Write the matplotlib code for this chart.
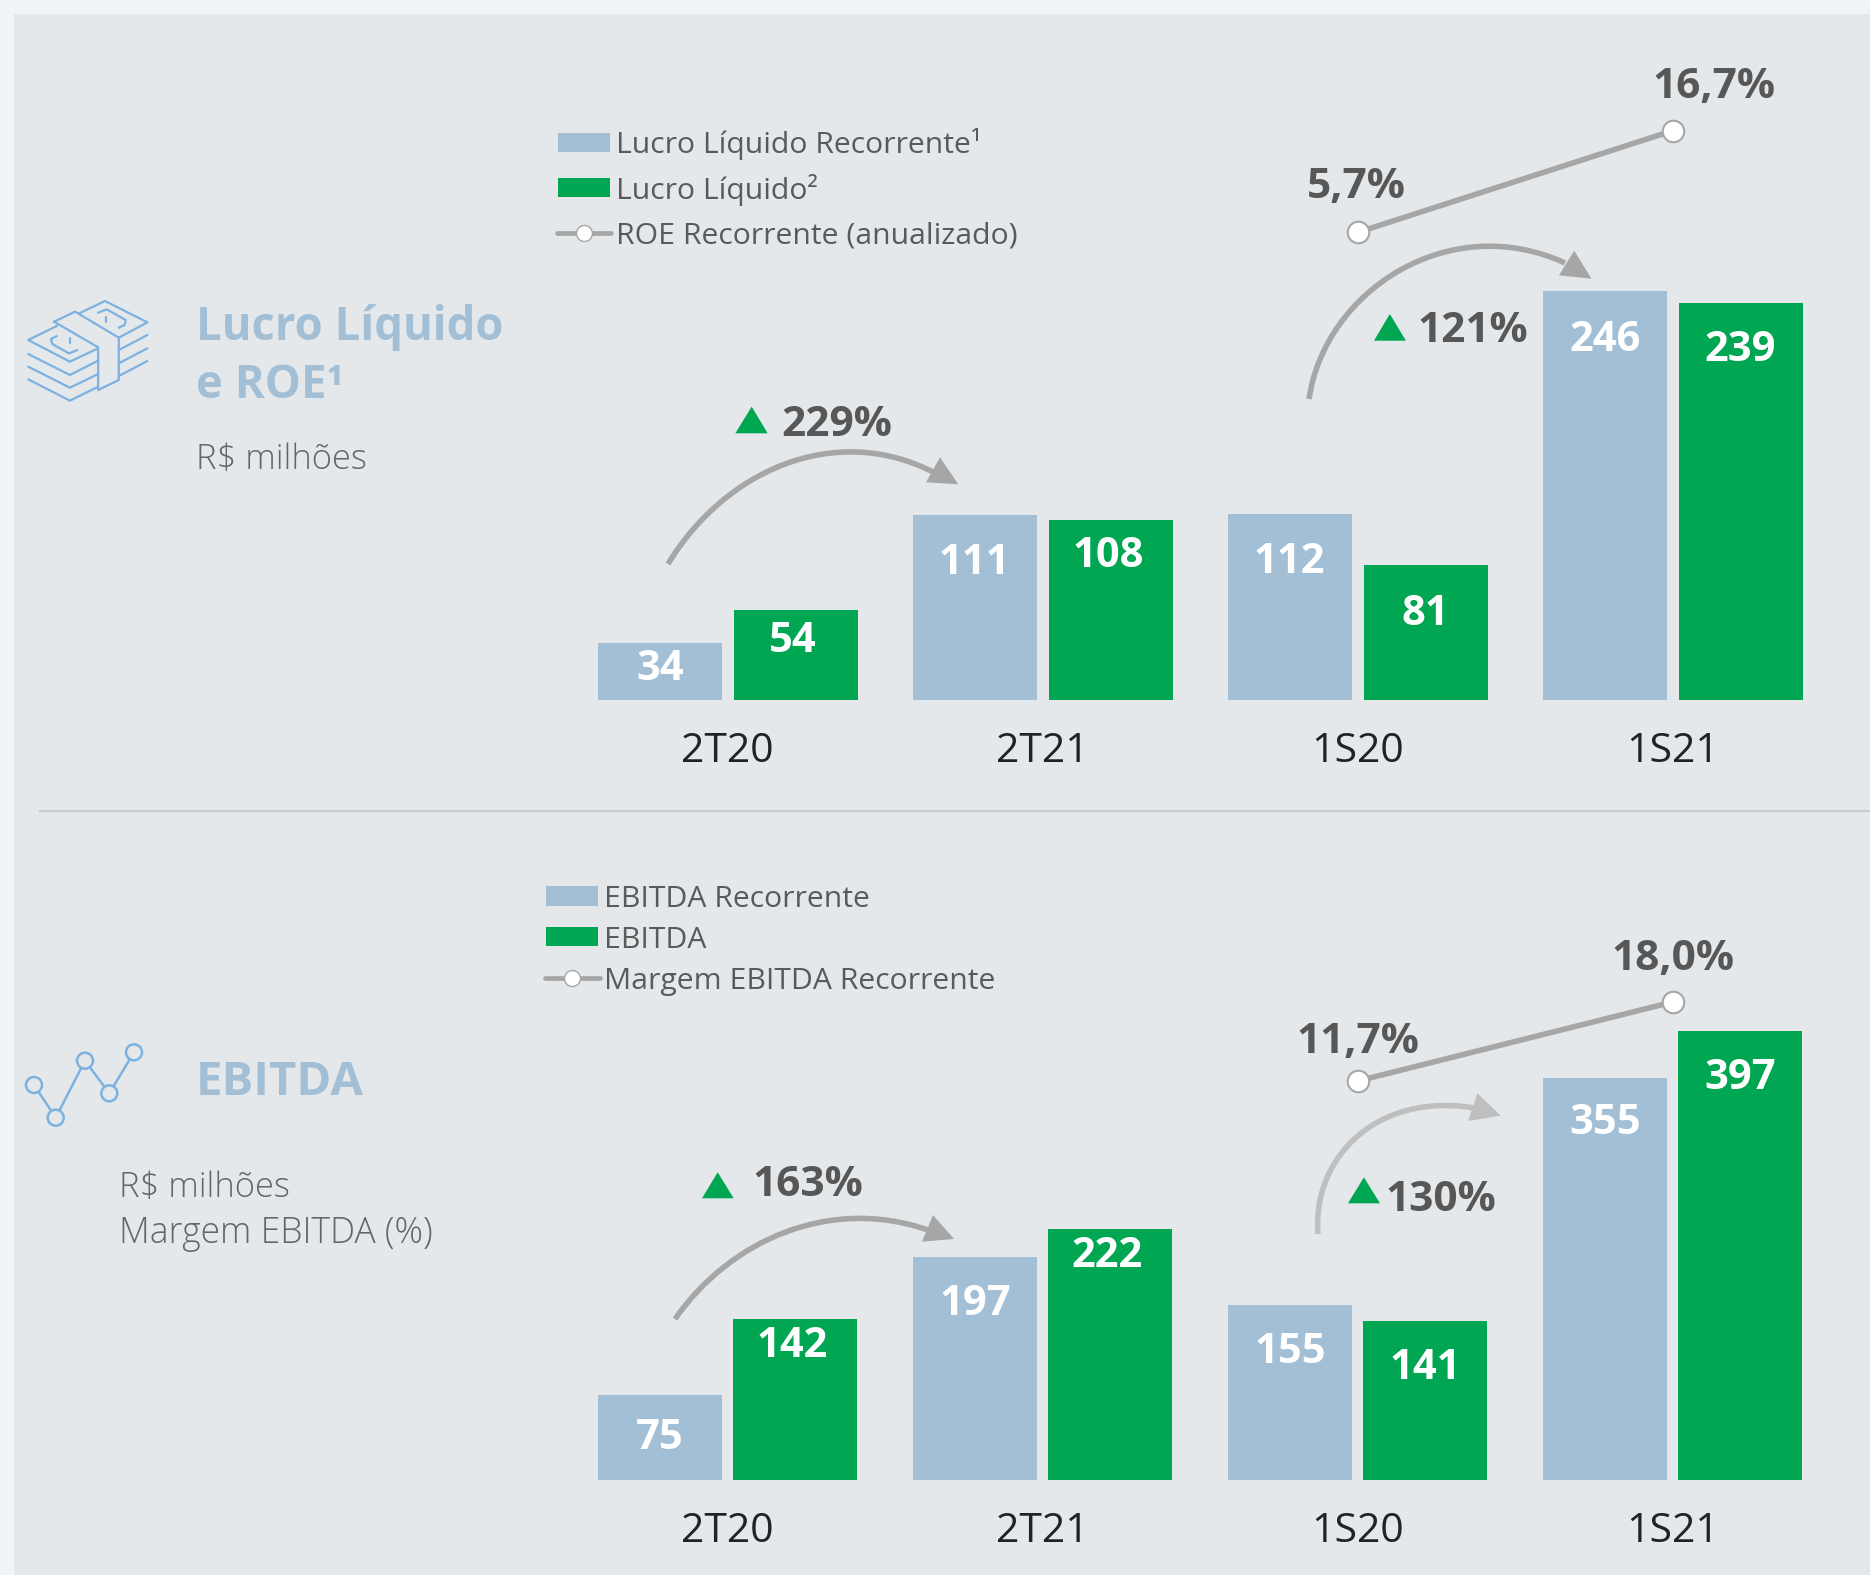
import matplotlib
matplotlib.use("Agg")
import matplotlib.pyplot as plt
from matplotlib.path import Path
from matplotlib.patches import PathPatch, Polygon, Rectangle, Circle

plt.rcParams['font.family'] = ['Open Sans', 'DejaVu Sans']

# ---- data ----
categories = ['2T20', '2T21', '1S20', '1S21']
lucro_recorrente = [34, 111, 112, 246]
lucro_liquido = [54, 108, 81, 239]
roe_values = [5.7, 16.7]
roe_labels = ['5,7%', '16,7%']
ebitda_recorrente = [75, 197, 155, 355]
ebitda = [142, 222, 141, 397]
margem_values = [11.7, 18.0]
margem_labels = ['11,7%', '18,0%']
line_categories = [2, 3]

BLUE = '#A3BFD6'; GREEN = '#00A651'; GREY = '#A6A6A6'; DARK = '#575757'
TEXT = '#5A5A5A'; ICON = '#7DB2E0'; PANEL = '#E4E8EB'; OUTER = '#EFF4F8'

W, H = 1870, 1575
fig = plt.figure(figsize=(W / 100, H / 100), dpi=100, facecolor=OUTER)

# pixel overlay for furniture
ov = fig.add_axes([0, 0, 1, 1], zorder=5)
ov.set_xlim(0, W); ov.set_ylim(H, 0); ov.axis('off'); ov.patch.set_alpha(0)
bg = fig.add_axes([0, 0, 1, 1], zorder=0)
bg.set_xlim(0, W); bg.set_ylim(H, 0); bg.axis('off')
bg.add_patch(Rectangle((14, 14), W, H, fc=PANEL, ec='none'))
bg.plot([40, W], [811, 811], color='#C6CCD0', lw=1.5)

PITCH = 315.0
X0 = 727.7


def panel(top_px, base_px, px_per_unit, v1, v2, offset, pts, line_vals, line_px):
    ax = fig.add_axes([0, 1 - base_px / H, 1, (base_px - top_px) / H], zorder=2)
    ax.patch.set_alpha(0)
    ax.set_xlim(-X0 / PITCH, (W - X0) / PITCH)
    ax.set_ylim(0, (base_px - top_px) / px_per_unit)
    w = 124 / PITCH
    off = offset / PITCH
    xs = list(range(len(categories)))
    ax.bar([x - off for x in xs], v1, w, color=BLUE)
    ax.bar([x + off for x in xs], v2, w, color=GREEN)
    for s in ax.spines.values():
        s.set_visible(False)
    ax.set_yticks([])
    ax.set_xticks(xs)
    ax.set_xticklabels(categories, fontsize=29.5, color='#222222')
    ax.tick_params(axis='x', length=0, pad=pts)
    # recurring-rate line on its own scale
    tw = ax.twinx()
    tw.patch.set_alpha(0)
    per = (line_px[0] - line_px[1]) / (line_vals[1] - line_vals[0])
    lo = line_vals[0] - (base_px - line_px[0]) / per
    tw.set_ylim(lo, lo + (base_px - top_px) / per)
    tw.set_yticks([])
    for s in tw.spines.values():
        s.set_visible(False)
    tw.plot(line_categories, line_vals, color=GREY, lw=4, marker='o', ms=15.5,
            mfc='white', mec=GREY, mew=1.5, solid_capstyle='butt')


panel(14, 700, 1.663, lucro_recorrente, lucro_liquido, 68, 23,
      roe_values, (232.4, 130.7))
panel(815, 1480, 1.131, ebitda_recorrente, ebitda, 67.5, 23,
      margem_values, (1081, 1002))


def vlabels(values_pairs, baselines, offset, shifts):
    i = 0
    for g, (a, b) in enumerate(values_pairs):
        cx = X0 + g * PITCH
        ov.text(cx - offset, baselines[i], str(a), color='white', fontsize=30,
                fontweight='bold', ha='center', va='baseline')
        ov.text(cx + offset + shifts[g], baselines[i + 1], str(b), color='white', fontsize=30,
                fontweight='bold', ha='center', va='baseline')
        i += 2


label_baselines_top = [680, 652, 574, 567, 573, 625, 351, 361]
label_baselines_bot = [1449, 1357, 1315, 1267, 1363, 1379, 1134, 1089]
vlabels(list(zip(lucro_recorrente, lucro_liquido)), label_baselines_top, 68, [-2.5, -2, 0, 0])
vlabels(list(zip(ebitda_recorrente, ebitda)), label_baselines_bot, 67.5, [-2.5, -3, 0, 0])


def big(x, y, s):
    ov.text(x, y, s, color=DARK, fontsize=30.5, fontweight='bold', ha='center', va='baseline')


big(1714, 98, roe_labels[1]); big(1356, 198, roe_labels[0])
big(1673, 970, margem_labels[1]); big(1358, 1053, margem_labels[0])
big(837, 436, '229%'); big(1473, 342, '121%')
big(808, 1196, '163%'); big(1441, 1211, '130%')


def tri(p):
    ov.add_patch(Polygon(p, closed=True, fc=GREEN, ec='none'))


tri([(751.7, 406.7), (767.7, 433.3), (735.3, 433.3)])
tri([(1389.8, 314), (1405.9, 340.7), (1374, 340.7)])
tri([(717.7, 1172.3), (733.7, 1198.3), (702, 1198.3)])
tri([(1363.9, 1177.3), (1380, 1203.3), (1348, 1203.3)])


def curve(p, head, color):
    ov.add_patch(PathPatch(Path(p, [Path.MOVETO, Path.CURVE4, Path.CURVE4, Path.CURVE4]),
                           fc='none', ec=color, lw=4, capstyle='butt'))
    ov.add_patch(Polygon(head, closed=True, fc=color, ec='none'))


curve([(668, 564), (725, 470), (835, 422), (933, 472)],
      [(940, 457.3), (958.3, 484.3), (926, 482.3)], GREY)
curve([(675, 1319), (730, 1240), (830, 1196), (928, 1230)],
      [(933, 1215), (954, 1239), (922, 1241.7)], GREY)
curve([(1309, 399), (1325, 290), (1450, 210), (1565, 263)],
      [(1574.2, 250.7), (1591.5, 278.7), (1559, 275.3)], GREY)
curve([(1318, 1234), (1312, 1155), (1380, 1092), (1474, 1108)],
      [(1477.5, 1093.3), (1500.8, 1115.7), (1468, 1121)], '#BFBFBF')


def legend(items, sw_x, sw_w, line_x, marker_x, text_x, sw_ys, line_y, baselines):
    ov.add_patch(Rectangle((sw_x, sw_ys[0][0]), sw_w, sw_ys[0][1] - sw_ys[0][0], fc=BLUE, ec='none'))
    ov.add_patch(Rectangle((sw_x, sw_ys[1][0]), sw_w, sw_ys[1][1] - sw_ys[1][0], fc=GREEN, ec='none'))
    ov.plot(line_x, [line_y, line_y], color=GREY, lw=3.4, solid_capstyle='round')
    ov.plot([marker_x], [line_y], marker='o', ms=11.5, mfc='white', mec=GREY, mew=1)
    for s, b in zip(items, baselines):
        ov.text(text_x, b, s, color=TEXT, fontsize=21.7, ha='left', va='baseline')


legend(['Lucro Líquido Recorrente¹', 'Lucro Líquido²', 'ROE Recorrente (anualizado)'],
       558, 52, [557, 611], 584, 616, [(133, 152), (178, 197)], 233, [153, 199, 244])
legend(['EBITDA Recorrente', 'EBITDA', 'Margem EBITDA Recorrente'],
       546, 52, [545, 600], 572, 604, [(886, 906), (927, 946)], 978, [907, 948, 989])

# left column headings
TITLE = BLUE
ov.text(196, 340, 'Lucro Líquido', color=TITLE, fontsize=32.8, fontweight='bold', va='baseline')
ov.text(196, 398, 'e ROE¹', color=TITLE, fontsize=32.8, fontweight='bold', va='baseline')
ov.text(196, 1095, 'EBITDA', color=TITLE, fontsize=34, fontweight='bold', va='baseline')
LIGHT = '#666666'
ov.text(196, 469, 'R$ milhões', color=LIGHT, fontsize=24.8, fontweight='light', va='baseline')
ov.text(119, 1197, 'R$ milhões', color=LIGHT, fontsize=24.8, fontweight='light', va='baseline')
ov.text(119, 1243, 'Margem EBITDA (%)', color=LIGHT, fontsize=25.6, fontweight='light', va='baseline')


# money icon
def ic(points, sx=2.904, sy=3, ox=0, oy=270):
    xs = [ox + p[0] / sx for p in points]
    ys = [oy + p[1] / sy for p in points]
    ov.plot(xs, ys, color=ICON, lw=1.6, solid_joinstyle='round', solid_capstyle='round')


for poly in [
    [(230, 130), (305, 93), (428, 157), (345, 203)],
    [(157, 155), (218, 125), (345, 203), (345, 330), (285, 360), (285, 232), (157, 155)],
    [(165, 168), (82, 210), (203, 275), (285, 235)],
    [(82, 252), (203, 315), (285, 272)],
    [(82, 290), (203, 353), (285, 312)],
    [(82, 328), (203, 392), (285, 350)],
    [(345, 240), (428, 195)], [(345, 280), (428, 235)], [(345, 318), (428, 273)],
    [(165, 198), (148, 207), (152, 222), (200, 250), (225, 240)],
    [(202, 205), (202, 218)],
    [(285, 128), (310, 118), (365, 150), (362, 165), (345, 173)],
    [(307, 142), (307, 155)],
]:
    ic(poly)

# line icon
nodes = [(34, 1085), (55.7, 1117.7), (85, 1060.7), (109.3, 1093.3), (134, 1052.3)]
for a, b in zip(nodes[:-1], nodes[1:]):
    ov.plot([a[0], b[0]], [a[1], b[1]], color=ICON, lw=1.8)
for n in nodes:
    ov.add_patch(Circle(n, 8, fc=PANEL, ec=ICON, lw=1.8, zorder=3))

fig.savefig('out.png', dpi=100, facecolor=OUTER)
